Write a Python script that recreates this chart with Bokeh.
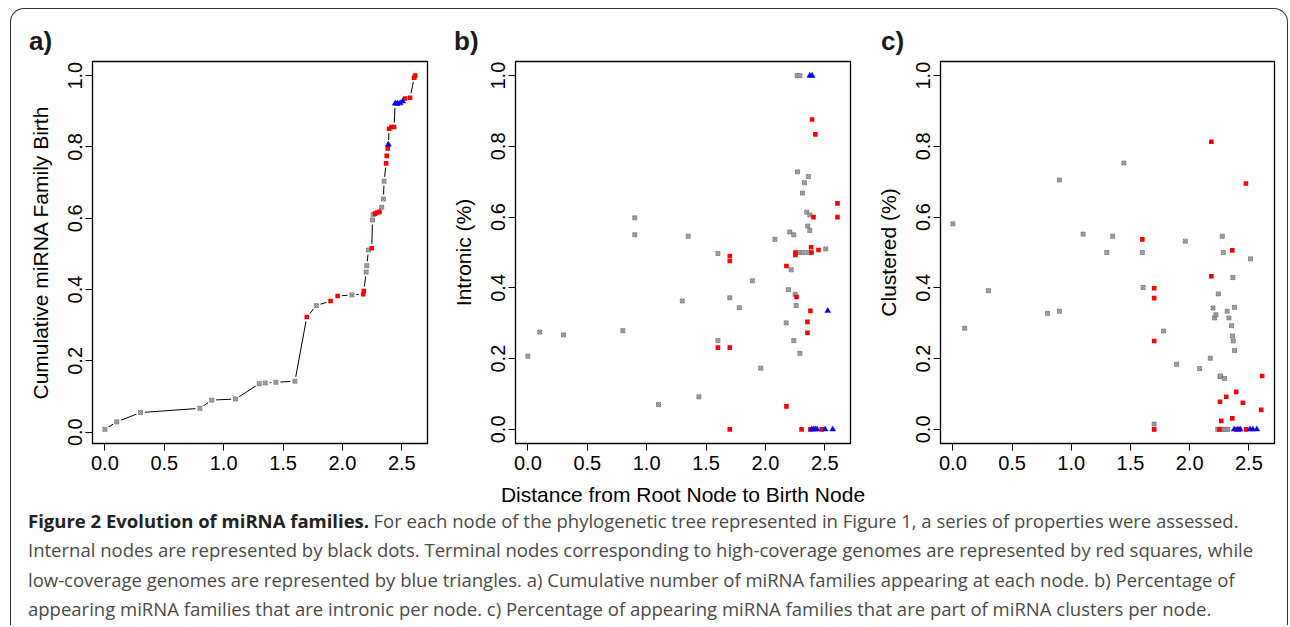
from bokeh.plotting import figure
from bokeh.layouts import row, column
from bokeh.models import Range1d, FixedTicker, PrintfTickFormatter
from bokeh.core.properties import value
from bokeh.embed import file_html
from bokeh.resources import INLINE

FONT = "Liberation Sans"
CAP_FONT = "Open Sans"

x_ticks = [0.0, 0.5, 1.0, 1.5, 2.0, 2.5]
y_ticks = [0.0, 0.2, 0.4, 0.6, 0.8, 1.0]
x_label = "Distance from Root Node to Birth Node"
panel_tags = ["a)", "b)", "c)"]
y_labels = ["Cumulative miRNA Family Birth", "Intronic (%)", "Clustered (%)"]

# ---------------- panel a: cumulative family birth ----------------
a_int_x = [0.0, 0.1, 0.3, 0.8, 0.9, 1.1, 1.3, 1.35, 1.44, 1.6, 1.78, 2.08, 2.2, 2.205,
           2.22, 2.253, 2.259, 2.331, 2.345, 2.351]
a_int_y = [0.008, 0.029, 0.055, 0.067, 0.090, 0.093, 0.136, 0.138, 0.140, 0.143, 0.355, 0.385,
           0.449, 0.467, 0.511, 0.595, 0.610, 0.631, 0.654, 0.704]
a_high_x = [1.70, 1.90, 1.96, 2.175, 2.18, 2.247, 2.275, 2.295, 2.312, 2.368, 2.373, 2.382,
            2.393, 2.413, 2.435, 2.466, 2.528, 2.570, 2.604, 2.612]
a_high_y = [0.323, 0.368, 0.382, 0.387, 0.396, 0.516, 0.613, 0.616, 0.618, 0.754, 0.775, 0.796,
            0.851, 0.856, 0.856, 0.922, 0.936, 0.938, 0.994, 1.0]
a_low_x = [2.387, 2.444, 2.463, 2.486, 2.508]
a_low_y = [0.807, 0.922, 0.922, 0.923, 0.928]

# ---------------- panel b: intronic fraction ----------------
b_int_x = [0.0, 0.1, 0.3, 0.8, 0.9, 0.9, 1.1, 1.3, 1.35, 1.44, 1.6, 1.6, 1.7, 1.78, 1.89, 1.96,
           2.08, 2.175, 2.194, 2.205, 2.217, 2.239, 2.239, 2.25, 2.259, 2.267, 2.27, 2.284, 2.29,
           2.29, 2.312, 2.318, 2.329, 2.348, 2.357, 2.362, 2.362, 2.374, 2.374, 2.508]
b_int_y = [0.207, 0.275, 0.267, 0.279, 0.598, 0.550, 0.070, 0.363, 0.546, 0.092, 0.251, 0.497,
           0.372, 0.344, 0.420, 0.173, 0.537, 0.301, 0.395, 0.558, 0.451, 0.550, 0.251, 0.382,
           0.350, 1.0, 0.728, 0.5, 1.0, 0.215, 0.668, 0.5, 0.697, 0.614, 0.575, 0.715, 0.5,
           0.606, 0.562, 0.510]
b_high_x = [1.6, 1.7, 1.7, 1.7, 1.7, 2.177, 2.177, 2.253, 2.253, 2.262, 2.304, 2.354, 2.354,
            2.379, 2.379, 2.385, 2.388, 2.393, 2.405, 2.421, 2.447, 2.475, 2.607, 2.607]
b_high_y = [0.231, 0.490, 0.476, 0.231, 0.0, 0.462, 0.065, 0.500, 0.493, 0.374, 0.0, 0.304,
            0.273, 0.335, 0.0, 0.515, 0.5, 0.876, 0.600, 0.834, 0.507, 0.0, 0.639, 0.600]
b_low_x = [2.374, 2.393, 2.525, 2.39, 2.405, 2.42, 2.435, 2.503, 2.567]
b_low_y = [1.0, 1.0, 0.335, 0.0, 0.0, 0.0, 0.0, 0.0, 0.0]

# ---------------- panel c: clustered fraction ----------------
c_int_x = [0.0, 0.1, 0.3, 0.8, 0.9, 0.9, 1.1, 1.3, 1.35, 1.444, 1.6, 1.607, 1.7, 1.78, 1.89,
           1.963, 2.084, 2.174, 2.197, 2.211, 2.222, 2.242, 2.256, 2.261, 2.275, 2.284, 2.295,
           2.317, 2.331, 2.354, 2.362, 2.365, 2.368, 2.379, 2.379, 2.514,
           2.237, 2.26, 2.28, 2.30, 2.322]
c_int_y = [0.581, 0.286, 0.392, 0.328, 0.334, 0.705, 0.552, 0.500, 0.546, 0.753, 0.5, 0.401,
           0.015, 0.278, 0.184, 0.532, 0.172, 0.201, 0.343, 0.315, 0.324, 0.383, 0.149, 0.151,
           0.546, 0.5, 0.144, 0.334, 0.315, 0.293, 0.264, 0.429, 0.250, 0.345, 0.223, 0.482,
           0.0, 0.0, 0.0, 0.0, 0.0]
c_high_x = [1.6, 1.7, 1.7, 1.7, 1.7, 2.183, 2.183, 2.252, 2.256, 2.267, 2.309, 2.36, 2.36,
            2.393, 2.393, 2.42, 2.449, 2.475, 2.477, 2.604, 2.612]
c_high_y = [0.537, 0.399, 0.371, 0.250, 0.0, 0.813, 0.433, 0.0, 0.078, 0.024, 0.092, 0.506,
            0.031, 0.106, 0.0, 0.0, 0.075, 0.695, 0.0, 0.055, 0.151]
c_low_x = [2.376, 2.407, 2.426, 2.51, 2.533, 2.567]
c_low_y = [0.0, 0.0, 0.0, 0.0, 0.0, 0.0]

# ---------------- caption ----------------
cap_bold = "Figure 2 Evolution of miRNA families."
cap_lines = [
    "For each node of the phylogenetic tree represented in Figure 1, a series of properties were assessed.",
    "Internal nodes are represented by black dots. Terminal nodes corresponding to high-coverage genomes are represented by red squares, while",
    "low-coverage genomes are represented by blue triangles. a) Cumulative number of miRNA families appearing at each node. b) Percentage of",
    "appearing miRNA families that are intronic per node. c) Percentage of appearing miRNA families that are part of miRNA clusters per node.",
]

# layout geometry (pixels)
TOTAL_W = 1276
HEAD_H = 48
PANEL_H = 452
CAP_H = 116
TOP = 4
BOTTOM = 66
X_RANGE = (-0.1045, 2.7165)


def make_panel(width, left, right, ylim, ylab, xlab):
    p = figure(width=width, height=PANEL_H, output_backend="svg", toolbar_location=None,
               x_range=Range1d(*X_RANGE), y_range=Range1d(*ylim),
               min_border_left=left, min_border_right=right,
               min_border_top=TOP, min_border_bottom=BOTTOM)
    p.grid.visible = False
    p.outline_line_color = "black"
    p.outline_line_width = 1.3
    p.background_fill_color = "white"
    p.border_fill_alpha = 0
    for ax in (p.xaxis[0], p.yaxis[0]):
        ax.axis_line_color = None
        ax.major_tick_line_color = "black"
        ax.major_tick_line_width = 1
        ax.major_tick_out = 7
        ax.major_tick_in = 0
        ax.minor_tick_line_color = None
        ax.major_label_text_font = FONT
        ax.major_label_text_font_size = "20px"
        ax.major_label_text_color = "black"
        ax.axis_label_text_font = FONT
        ax.axis_label_text_font_size = "21px"
        ax.axis_label_text_font_style = "normal"
        ax.axis_label_text_color = "black"
        ax.formatter = PrintfTickFormatter(format="%.1f")
    p.xaxis[0].ticker = FixedTicker(ticks=x_ticks)
    p.xaxis[0].major_label_standoff = 5
    p.yaxis[0].ticker = FixedTicker(ticks=y_ticks)
    p.yaxis[0].major_label_orientation = "vertical"
    p.yaxis[0].major_label_standoff = 3
    p.yaxis[0].axis_label = ylab
    p.yaxis[0].axis_label_standoff = 14
    if xlab:
        p.xaxis[0].axis_label = xlab
        p.xaxis[0].axis_label_standoff = 10
    return p


def add_points(p, ix, iy, hx, hy, lx, ly):
    p.scatter(ix, iy, marker="square_x", size=4, line_color="#6a6a6a",
              fill_color="#c4c4c4", line_width=0.7)
    p.scatter(hx, hy, marker="square", size=4.6, fill_color="#ff0000", line_color=None)
    p.scatter(lx, ly, marker="triangle", size=6, fill_color="#0000ff", line_color="#0000ff",
              line_width=0.4)


def text_strip(height):
    s = figure(width=TOTAL_W, height=height, output_backend="svg", toolbar_location=None,
               x_range=Range1d(0, TOTAL_W), y_range=Range1d(height, 0), title=None,
               x_axis_type=None, y_axis_type=None, min_border=0)
    s.grid.visible = False
    s.outline_line_color = None
    s.border_fill_alpha = 0
    s.background_fill_alpha = 0
    return s


# header strip with panel tags (text centred on y)
head = text_strip(HEAD_H)
head.text(x=[17.5, 442.5, 869.5], y=[31.5, 31.5, 31.5], text=panel_tags,
          text_font=value(FONT), text_font_size="26px", text_font_style="bold",
          text_color="#1a1a1a", text_baseline="middle", text_align="left")

# panel a
pa = make_panel(429, 81, 13, (-0.0317, 1.0397), y_labels[0], "")
all_a = sorted(zip(a_int_y + a_high_y + a_low_y, a_int_x + a_high_x + a_low_x))
line_x = [pt[1] for pt in all_a]
line_y = [pt[0] for pt in all_a]
pa.line(line_x, line_y, line_color="black", line_width=1)
pa.scatter(line_x, line_y, marker="circle", size=9, fill_color="white", line_color=None)
add_points(pa, a_int_x, a_int_y, a_high_x, a_high_y, a_low_x, a_low_y)

# panel b
pb = make_panel(425, 75, 15, (-0.04, 1.04), y_labels[1], x_label)
add_points(pb, b_int_x, b_int_y, b_high_x, b_high_y, b_low_x, b_low_y)

# panel c
pc = make_panel(422, 75, 13, (-0.04, 1.04), y_labels[2], "")
add_points(pc, c_int_x, c_int_y, c_high_x, c_high_y, c_low_x, c_low_y)

# caption (text centred on y)
cap = text_strip(CAP_H)
cap_y = [11.0, 40.3, 69.6, 98.9]
cap_x = [362.0, 16.5, 16.5, 16.5]
cap.text(x=[16.5], y=[cap_y[0]], text=[cap_bold], text_font=value(CAP_FONT),
         text_font_size="18.5px", text_font_style="bold", text_color="#222222",
         text_baseline="middle", text_align="left")
cap.text(x=cap_x, y=cap_y, text=cap_lines, text_font=value(CAP_FONT),
         text_font_size="18.5px", text_color="#4a4a4a",
         text_baseline="middle", text_align="left")

layout = column(head, row(pa, pb, pc), cap, margin=(8, 0, 0, 10),
                styles={"border-top": "1.5px solid #333", "border-left": "1.5px solid #333",
                        "border-right": "1.5px solid #333",
                        "border-top-left-radius": "14px", "border-top-right-radius": "14px"})

open("out.html", "w").write(file_html(layout, INLINE))
